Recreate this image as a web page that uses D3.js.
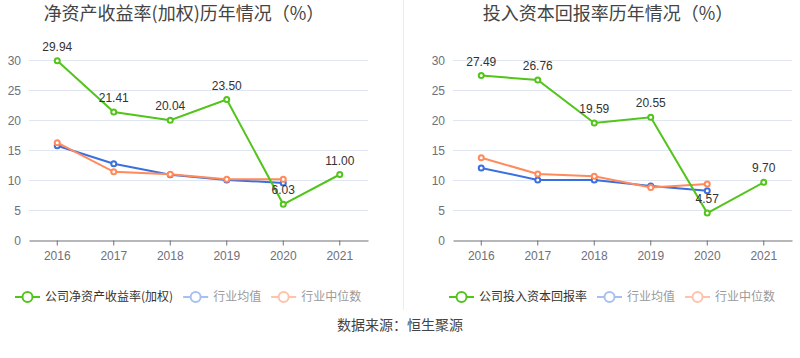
<!DOCTYPE html>
<html><head><meta charset="utf-8">
<script src="https://cdn.jsdelivr.net/npm/d3@7/dist/d3.min.js"></script>
<style>body{margin:0;background:#fff;}svg{display:block;font-family:"Microsoft YaHei","Noto Sans CJK SC",sans-serif;}</style>
</head><body>
<svg id="c" width="800" height="358"></svg>
<script>
const years = ["2016","2017","2018","2019","2020","2021"];
const yTicks = [0,5,10,15,20,25,30];
const roeCompany = [29.94,21.41,20.04,23.50,6.03,11.00];
const roeIndustryMean = [15.8,12.8,10.95,10.1,9.6];
const roeIndustryMedian = [16.3,11.45,11.05,10.2,10.2];
const roicCompany = [27.49,26.76,19.59,20.55,4.57,9.70];
const roicIndustryMean = [12.1,10.1,10.1,9.1,8.3];
const roicIndustryMedian = [13.8,11.1,10.7,8.85,9.4];

const GREEN="#52c41a", BLUE="#3a6fe0", ORANGE="#ff8a5b";
const svg = d3.select("#c");

svg.append("line").attr("x1",403.5).attr("x2",403.5).attr("y1",0).attr("y2",310)
  .attr("stroke","#ececec").attr("stroke-width",1);

function panel(cfg){
  const g = svg.append("g");
  const x = d3.scaleBand().domain(years).range([cfg.x0,cfg.x1]);
  const y = d3.scaleLinear().domain([0,30]).range([240.5,60.5]);
  g.append("text").attr("x",cfg.titleX).attr("y",20).attr("text-anchor","middle")
    .attr("font-size",18).attr("fill","#444").text(cfg.title);
  g.selectAll(".grid").data(yTicks.filter(d=>d>0)).enter().append("line")
    .attr("x1",cfg.x0).attr("x2",cfg.x1).attr("y1",d=>Math.floor(y(d))+0.5).attr("y2",d=>Math.floor(y(d))+0.5)
    .attr("stroke","#e0e6f1");
  g.selectAll(".yl").data(yTicks).enter().append("text")
    .attr("x",cfg.x0-8).attr("y",d=>y(d)).attr("dy","0.35em").attr("text-anchor","end")
    .attr("font-size",12).attr("fill","#6e7079").attr("font-family","Arial,Liberation Sans,sans-serif").text(d=>d);
  const xa = g.append("g").attr("transform",`translate(0,${Math.floor(y(0))+0.5})`)
    .call(d3.axisBottom(x).tickSize(5).tickSizeOuter(0));
  xa.select(".domain").attr("stroke","#6e7079");
  xa.selectAll(".tick line").attr("stroke","#6e7079");
  xa.selectAll(".tick text").attr("fill","#6e7079").attr("font-size",12).attr("dy","0.95em")
    .attr("font-family","Arial,Liberation Sans,sans-serif");
  const cx = d=>x(d)+x.bandwidth()/2;
  const line = d3.line().x((d,i)=>cx(years[i])).y(d=>y(d));
  function series(vals,color){
    g.append("path").datum(vals).attr("d",line).attr("fill","none").attr("stroke",color).attr("stroke-width",2);
    g.selectAll(null).data(vals).enter().append("circle")
      .attr("cx",(d,i)=>cx(years[i])).attr("cy",d=>y(d)).attr("r",2.5)
      .attr("fill","#fff").attr("stroke",color).attr("stroke-width",2);
  }
  series(cfg.mean,BLUE);
  series(cfg.median,ORANGE);
  series(cfg.company,GREEN);
  g.selectAll(null).data(cfg.company).enter().append("text")
    .attr("x",(d,i)=>cx(years[i])).attr("y",d=>y(d)-10).attr("text-anchor","middle")
    .attr("font-size",12).attr("fill","#333").attr("font-family","Arial,Liberation Sans,sans-serif")
    .text(d=>d.toFixed(2));
  const items = [
    {label:cfg.legend,color:GREEN,text:"#333"},
    {label:"行业均值",color:"#a7c0f2",text:"#9a9a9a"},
    {label:"行业中位数",color:"#ffc2ab",text:"#9a9a9a"}];
  let lx = cfg.legendX;
  items.forEach((it,i)=>{
    const lg = g.append("g");
    lg.append("line").attr("x1",lx).attr("x2",lx+25).attr("y1",297).attr("y2",297).attr("stroke",it.color).attr("stroke-width",2);
    lg.append("circle").attr("cx",lx+12.5).attr("cy",297).attr("r",5).attr("fill","#fff").attr("stroke",it.color).attr("stroke-width",2);
    const t = lg.append("text").attr("x",lx+30).attr("y",297).attr("dy","0.35em").attr("font-size",12).attr("fill",it.text).text(it.label);
    lx += 30 + t.node().getComputedTextLength() + 10;
  });
}

panel({x0:29,x1:368,titleX:184,title:"净资产收益率(加权)历年情况（%）",legend:"公司净资产收益率(加权)",legendX:15,
  company:roeCompany,mean:roeIndustryMean,median:roeIndustryMedian});
panel({x0:453,x1:792,titleX:608,title:"投入资本回报率历年情况（%）",legend:"公司投入资本回报率",legendX:449,
  company:roicCompany,mean:roicIndustryMean,median:roicIndustryMedian});

svg.append("text").attr("x",400).attr("y",325).attr("dy","0.35em").attr("text-anchor","middle")
  .attr("font-size",14).attr("fill","#444").text("数据来源：恒生聚源");
</script>
</body></html>
